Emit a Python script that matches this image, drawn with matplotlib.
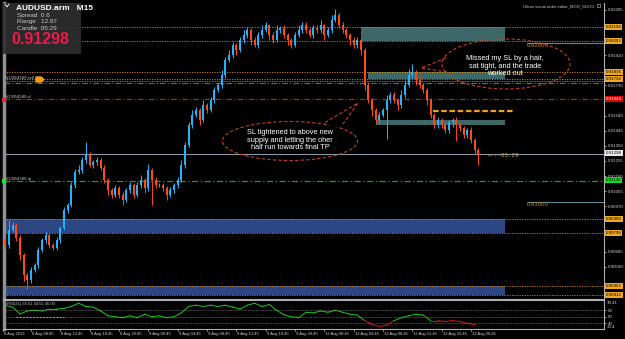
import matplotlib
matplotlib.use("Agg")
import matplotlib.pyplot as plt
from matplotlib.patches import Ellipse, Rectangle, Polygon
import numpy as np

W, H = 625, 339
BAR_PX, X0_PX = 3.667, 5.3

# ── Data (M30-equivalent bars) ─────────────────────────────────────────────────
OPEN0 = 0.90760
CLOSE = [
    0.90727, 0.90821, 0.90852, 0.90770, 0.90664, 0.90538, 0.90507, 0.90569, 0.90601, 0.90695,
    0.90758, 0.90789, 0.90727, 0.90708, 0.90758, 0.90833, 0.90947, 0.90978, 0.91104, 0.91186,
    0.91198, 0.91261, 0.91293, 0.91230, 0.91249, 0.91261, 0.91211, 0.91135, 0.91073, 0.91041,
    0.91085, 0.91041, 0.91010, 0.91073, 0.91104, 0.91041, 0.91104, 0.91135, 0.91085, 0.91198,
    0.91135, 0.91104, 0.91104, 0.91085, 0.91041, 0.91073, 0.91104, 0.91135, 0.91230, 0.91356,
    0.91481, 0.91544, 0.91576, 0.91513, 0.91607, 0.91576, 0.91639, 0.91702, 0.91733, 0.91796,
    0.91890, 0.91922, 0.91985, 0.91953, 0.92016, 0.92048, 0.92079, 0.92016, 0.91985, 0.92048,
    0.92079, 0.92110, 0.92048, 0.92016, 0.92079, 0.92092, 0.92048, 0.92016, 0.91985, 0.92048,
    0.92079, 0.92110, 0.92079, 0.92048, 0.92092, 0.92079, 0.92110, 0.92048, 0.92079, 0.92142,
    0.92173, 0.92110, 0.92079, 0.92048, 0.92016, 0.91985, 0.92016, 0.91953, 0.91733, 0.91639,
    0.91576, 0.91513, 0.91544, 0.91576, 0.91639, 0.91670, 0.91639, 0.91607, 0.91670, 0.91733,
    0.91796, 0.91815, 0.91765, 0.91733, 0.91702, 0.91639, 0.91544, 0.91481, 0.91513, 0.91481,
    0.91450, 0.91500, 0.91513, 0.91481, 0.91462, 0.91419, 0.91450, 0.91387, 0.91324, 0.91298,
]
# wick lengths in pips above max(open, close) / below min(open, close)
WICK_UP = [
    2, 6, 2, 1, 2, 1, 1, 2, 1, 2, 1, 2, 1, 1, 2, 1, 2, 1, 2, 2,
    3, 2, 8, 2, 1, 2, 1, 2, 1, 1, 2, 1, 2, 1, 2, 1, 2, 3, 1, 4,
    1, 2, 1, 1, 1, 2, 1, 2, 3, 2, 2, 3, 2, 1, 3, 1, 2, 2, 1, 3,
    2, 3, 2, 1, 2, 3, 2, 1, 2, 2, 3, 2, 1, 2, 3, 1, 2, 1, 1, 2,
    3, 2, 2, 1, 2, 2, 3, 1, 2, 3, 4, 1, 2, 1, 1, 2, 2, 1, 1, 2,
    1, 1, 2, 1, 3, 2, 2, 1, 3, 3, 4, 5, 1, 2, 1, 1, 1, 1, 2, 1,
    2, 1, 1, 2, 1, 1, 1, 2, 1, 1,
]
WICK_DN = [
    3, 2, 1, 2, 3, 4, 6, 2, 1, 2, 1, 2, 2, 1, 1, 2, 1, 2, 1, 2,
    1, 2, 2, 1, 2, 2, 1, 2, 3, 2, 1, 2, 3, 1, 2, 2, 1, 2, 3, 2,
    16, 2, 1, 2, 3, 1, 2, 2, 1, 2, 1, 2, 1, 3, 1, 2, 1, 2, 1, 2,
    2, 1, 2, 3, 1, 2, 2, 3, 1, 2, 2, 1, 3, 2, 1, 2, 2, 3, 2, 1,
    1, 2, 2, 1, 2, 2, 2, 3, 1, 2, 1, 2, 2, 2, 3, 2, 2, 3, 3, 2,
    4, 2, 2, 1, 18, 2, 2, 3, 2, 2, 1, 2, 3, 2, 2, 3, 2, 2, 2, 2,
    2, 2, 3, 10, 2, 2, 2, 2, 3, 7,
]

# price-scale labels left visible (the others sit under the coloured tags)
PRICE_TICKS = [0.90590, 0.90685, 0.90970, 0.91065, 0.91160,
               0.91255, 0.91350, 0.91445, 0.91540, 0.91730, 0.91920, 0.92205]
TIME_LABELS = ["8 Aug 2013", "8 Aug 08:45", "8 Aug 12:45", "8 Aug 16:45", "8 Aug 20:45",
               "9 Aug 00:45", "9 Aug 04:45", "9 Aug 08:45", "9 Aug 12:45", "9 Aug 16:45",
               "9 Aug 20:45", "12 Aug 00:45", "12 Aug 04:45", "12 Aug 08:45", "12 Aug 12:45",
               "12 Aug 16:45", "12 Aug 20:45"]

# supply (teal) and demand (blue) zones: low, high, first bar
SUPPLY_LO = [0.92010, 0.91771, 0.91481]
SUPPLY_HI = [0.92098, 0.91815, 0.91513]
SUPPLY_START = [97, 99, 101]
DEMAND_LO = [0.90802, 0.90412]
DEMAND_HI = [0.90890, 0.90469]

ORANGE_LEVELS = [0.92098, 0.92010, 0.91815, 0.91771, 0.90890, 0.90802, 0.90469, 0.90412]
ORANGE_TAGS = ["0.92108", "0.92053", "0.91816", "0.91792", "0.90906", "0.90798", "0.90462", "0.90412"]
SELL_PRICE, SL_PRICE, TP_PRICE, BID = 0.91760, 0.91644, 0.91130, 0.91298
ROUND_LEVELS = [0.92000, 0.91000]
ENTRY2 = 0.91570

RSI = [67.8, 64.8, 54.4, 59, 60, 59, 62, 62, 63, 66, 71, 66, 65, 59, 51.5, 50, 48.5, 51.5,
       48.5, 54, 50, 51.5, 48.5, 50, 56, 66, 68, 66, 68, 66, 68, 65, 62, 68, 71, 66, 69, 60,
       53, 50, 48.5, 57, 56, 59, 57, 60, 57, 54, 52.5, 44, 38, 35, 37, 44, 48.5, 51.5, 54,
       52.5, 44, 44, 42.6, 44, 42.6, 39.6, 38]

# ── Build candles ──────────────────────────────────────────────────────────────
close = np.array(CLOSE)
opn = np.concatenate([[OPEN0], close[:-1]])
high = np.maximum(opn, close) + np.array(WICK_UP) * 1e-4
low = np.minimum(opn, close) - np.array(WICK_DN) * 1e-4
idx = np.arange(len(close))
up = close >= opn

plt.rcParams["font.family"] = ["Liberation Sans", "DejaVu Sans"]
fig = plt.figure(figsize=(W / 100, H / 100), dpi=100, facecolor="black")

def px_to_x(px):
    return (px - X0_PX) / BAR_PX

ax = fig.add_axes([4 / W, 1 - 298 / H, 600 / W, 295 / H], facecolor="black")
ax.set_xlim(px_to_x(4), px_to_x(604))
ax.set_ylim(0.90393, 0.92249)
for s in ["top", "bottom"]:
    ax.spines[s].set_visible(False)
ax.spines["left"].set_color("#909090")
ax.spines["left"].set_linewidth(2.5)
ax.spines["right"].set_color("#b0b0b0")
ax.set_xticks([])
ax.yaxis.tick_right()
ax.set_yticks(PRICE_TICKS)
ax.set_yticklabels([f"{p:.5f}" for p in PRICE_TICKS])
ax.tick_params(axis="y", colors="#d0d0d0", labelsize=3.2, length=1.5, pad=1, width=0.5)

zone_end = px_to_x(505)
for lo, hi, st in zip(SUPPLY_LO, SUPPLY_HI, SUPPLY_START):
    ax.add_patch(Rectangle((st, lo), zone_end - st, hi - lo, color="#3e6868", lw=0, zorder=1))
for lo, hi in zip(DEMAND_LO, DEMAND_HI):
    ax.add_patch(Rectangle((px_to_x(5), lo), zone_end - px_to_x(5), hi - lo,
                           color="#2c4784", lw=0, zorder=1))

for lv in ORANGE_LEVELS:
    ax.axhline(lv, color="#d88a10", lw=0.6, ls=(0, (1.5, 1.5)), zorder=2)
ax.axhline(SELL_PRICE, color="#d88a10", lw=0.6, ls=(0, (1.5, 1.5)), zorder=2)
ax.axhline(SELL_PRICE - 0.00012, color="#1e9e1e", lw=0.8, ls=(0, (5, 2, 1, 2)), zorder=2)
ax.axhline(SL_PRICE, color="#c81e1e", lw=0.8, ls=(0, (5, 2, 1, 2)), zorder=2)
ax.axhline(TP_PRICE, color="#1e9e1e", lw=0.9, ls=(0, (5, 2, 1, 2)), zorder=2)
ax.axhline(BID, color="#8a96a6", lw=0.8, zorder=2)
for lv in ROUND_LEVELS:
    ax.hlines(lv, px_to_x(527), px_to_x(604), color="#5a8a9a", lw=0.8, zorder=2)
    ax.text(px_to_x(527), lv - 0.00003, f"{lv:.5f}", color="#d08a10", fontsize=4.3,
            va="top", ha="left")
ax.hlines(ENTRY2, px_to_x(433), px_to_x(515), color="#f0a020", lw=1.6,
          ls=(0, (2.5, 1.2)), zorder=3)

# candles
ax.vlines(idx, low, high, colors=np.where(up, "#1eb4ff", "#ff4a12"), lw=0.7, zorder=4)
ax.bar(idx, np.abs(close - opn) + 0.00002, bottom=np.minimum(opn, close), width=0.6,
       color=np.where(up, "#1eb4ff", "#ff4a12"), lw=0, zorder=5)

ax.text(px_to_x(488), BID - 0.00010, "<---05:29", color="#d8a818", fontsize=4.2,
        family="DejaVu Sans Mono", va="center")
for lbl, pr in [("#13054589 sell", SELL_PRICE), ("#13054589 sl", SL_PRICE),
                ("#13054589 tp", TP_PRICE)]:
    ax.text(px_to_x(6), pr + 0.00002, lbl, color="#c8c8c8", fontsize=3.0, va="bottom")

# ── RSI panel ──────────────────────────────────────────────────────────────────
axr = fig.add_axes([4 / W, 1 - 329 / H, 600 / W, 29 / H], facecolor="black")
axr.set_xlim(ax.get_xlim())
axr.set_ylim(31, 76)
rsi = np.array(RSI)
rx = np.arange(len(rsi)) * 2
for i in range(len(rsi) - 1):
    c = "#19c819" if (rsi[i] + rsi[i + 1]) / 2 >= 46 else "#d01818"
    axr.plot(rx[i:i + 2], rsi[i:i + 2], color=c, lw=0.7)
for lv in [60, 50, 40]:
    axr.axhline(lv, color="#a0a0a0", lw=0.4, ls=(0, (1.5, 1.5)))
axr.axhline(50, xmin=0.02, xmax=0.1, color="#e8d020", lw=0.6, ls=(0, (2, 2)))
axr.yaxis.tick_right()
axr.set_yticks([60, 50, 40])
axr.set_yticklabels(["60", "50", "40"])
axr.tick_params(axis="y", colors="#d0d0d0", labelsize=3.2, length=1.5, pad=1, width=0.5)
axr.set_xticks([])
for s in ["top", "bottom", "left", "right"]:
    axr.spines[s].set_color("#b0b0b0")
axr.spines["top"].set_linewidth(1.5)
axr.spines["left"].set_linewidth(2.5)
axr.spines["left"].set_color("#909090")
axr.text(0.005, 0.93, "RSI(21) 34.51 34.51 45.00", transform=axr.transAxes,
         color="#c8c8c8", fontsize=3.0, va="top")
fig.text(607 / W, 1 - 303 / H, "78.41", color="#d0d0d0", fontsize=3.2, va="center")
fig.text(607 / W, 1 - 327 / H, "30.4", color="#d0d0d0", fontsize=3.2, va="center")

# time axis
tick_x = [-0.5] + [7 + 8 * k for k in range(len(TIME_LABELS) - 1)]
for tx, tl in zip(tick_x, TIME_LABELS):
    xf = (X0_PX + tx * BAR_PX) / W
    fig.add_artist(plt.Line2D([xf, xf], [1 - 329 / H, 1 - 331 / H], color="#c0c0c0", lw=0.5))
    fig.text(xf + 1 / W, 1 - 334 / H, tl, color="#d0d0d0", fontsize=3.0, va="center")

# ── Overlay (annotations in screen pixels) ─────────────────────────────────────
ov = fig.add_axes([0, 0, 1, 1], facecolor="none")
ov.set_xlim(0, W)
ov.set_ylim(H, 0)
ov.axis("off")

ov.add_patch(Rectangle((3, 3), 78, 51, color="#2e2e2e", alpha=0.92, lw=0))
ov.plot([5, 7, 9], [4, 7, 4], color="white", lw=0.6)
ov.text(16, 8, "AUDUSD.arm   M15", color="white", fontsize=6, weight="bold", va="center")
for j, t in enumerate(["Spread  0.6", "Range   12.97", "Candle  05:29"]):
    ov.text(17, 15.5 + j * 6.5, t, color="#c8c8c8", fontsize=4.6, va="center")
ov.text(11, 39, f"{BID:.5f}", color="#ee1a4a", fontsize=11.5, weight="bold", va="center")

ov.text(523, 6, "Ultron visual order editor_MOD_SDOG", color="#c8c8c8", fontsize=3.0,
        va="center")
ov.add_patch(Rectangle((597, 4), 3, 3, facecolor="none", edgecolor="#c8c8c8", lw=0.4))
ov.add_patch(Polygon([[36, 77], [41, 77], [44, 79.5], [41, 82], [36, 82]], color="#f5a010"))
ov.add_patch(Rectangle((2, 179), 2.5, 2.5, color="#30e030"))
ov.add_patch(Rectangle((2, 98), 2.5, 2.5, color="#e03030"))

callout_kw = dict(edgecolor="#c8401e", facecolor="none", lw=0.8, ls=(0, (3, 2)))
ov.add_patch(Ellipse((506, 64), 128, 50, **callout_kw))
ov.add_patch(Polygon([[446, 58], [447, 72], [452, 66]], color="black", zorder=3))
ov.plot([446, 421, 447], [58, 68, 72], color="#c8401e", lw=0.8, ls=(0, (3, 2)), zorder=4)
ov.text(505, 66, "Missed my SL by a hair,\nsat tight, and the trade\nworked out",
        color="white", fontsize=5.3, ha="center", va="center", linespacing=1.05, zorder=5)

ov.add_patch(Ellipse((290, 141), 135, 39, **callout_kw))
ov.add_patch(Polygon([[325, 122.5], [343, 124], [334, 127]], color="black", zorder=3))
ov.plot([325, 358, 343], [122.5, 103, 124], color="#c8401e", lw=0.8, ls=(0, (3, 2)), zorder=4)
ov.text(290, 140, "SL tightened to above new\nsupply and letting the oher\nhalf run towards final TP",
        color="white", fontsize=5.3, ha="center", va="center", linespacing=1.05, zorder=5)

# highlighted price tags on the right axis
def tag(price_y_px, text, bg, fg="black"):
    fig.text(606 / W, 1 - price_y_px / H, text, color=fg, fontsize=3.2, va="center",
             bbox=dict(boxstyle="square,pad=0.15", facecolor=bg, edgecolor="none"))

for yy, t in zip([27, 41, 72, 79, 219, 233, 286, 295], ORANGE_TAGS):
    tag(yy, t, "#f0a81c")
tag(99, f"{SL_PRICE:.5f}", "#e00000", "white")
tag(153, f"{BID:.5f}", "#e8e8e8")
tag(180, f"{TP_PRICE:.5f}", "#10e010")

fig.savefig("out.png", dpi=100, facecolor="black")
